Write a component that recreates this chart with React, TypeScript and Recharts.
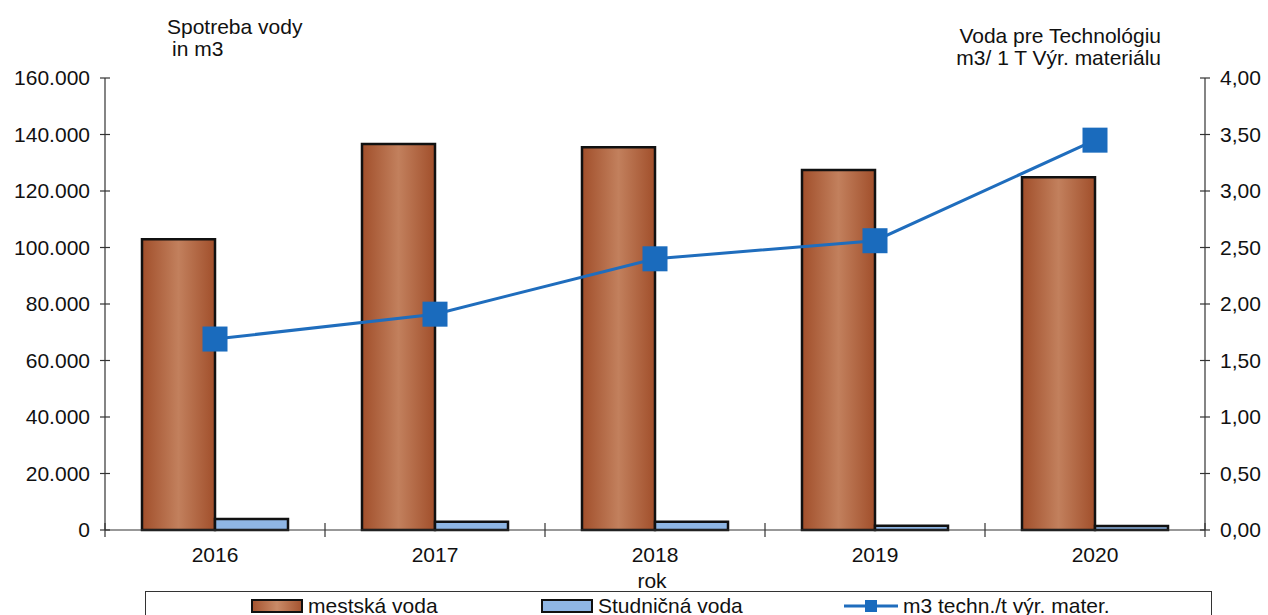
import React from 'react';
import { ComposedChart, Bar, Line, XAxis, YAxis, Legend, Label } from 'recharts';

const years = ['2016', '2017', '2018', '2019', '2020'];
const mestskaVoda = [102900, 136600, 135500, 127400, 124900];
const studnicnaVoda = [3900, 2900, 2900, 1500, 1400];
const m3Techn = [1.69, 1.91, 2.4, 2.56, 3.45];
const leftTicks = [0, 20000, 40000, 60000, 80000, 100000, 120000, 140000, 160000];
const rightTicks = [0, 0.5, 1, 1.5, 2, 2.5, 3, 3.5, 4];

const data = years.map((y, i) => ({
  year: y,
  mestska: mestskaVoda[i],
  studnicna: studnicnaVoda[i],
  techn: m3Techn[i],
}));

const FONT = '"Liberation Sans", Arial, sans-serif';
const AXIS = '#333';

const fmtLeft = (v: number) => (v === 0 ? '0' : (v / 1000).toFixed(3).replace(/\B(?=(\d{3})+(?!\d))/g, '.'));
const fmtRight = (v: number) => v.toFixed(2).replace('.', ',');

const LeftTick = (props: any) => {
  const { x, y, payload } = props;
  return (
    <g>
      <line x1={x + 10} x2={x + 20} y1={y} y2={y} stroke={AXIS} strokeWidth={1.2} />
      <text x={x} y={y} dy="0.35em" textAnchor="end" fontSize={21} fontFamily={FONT} fill="#111">
        {fmtLeft(payload.value)}
      </text>
    </g>
  );
};

const RightTick = (props: any) => {
  const { x, y, payload } = props;
  return (
    <g>
      <line x1={x - 20} x2={x - 10} y1={y} y2={y} stroke={AXIS} strokeWidth={1.2} />
      <text x={x} y={y} dy="0.35em" textAnchor="start" fontSize={21} fontFamily={FONT} fill="#111">
        {fmtRight(payload.value)}
      </text>
    </g>
  );
};

const XTick = (props: any) => {
  const { x, y, payload, index } = props;
  const half = 110;
  return (
    <g>
      {index === 0 && <line x1={x - half} x2={x - half} y1={y - 24} y2={y - 10} stroke={AXIS} strokeWidth={1.2} />}
      <line x1={x + half} x2={x + half} y1={y - 24} y2={y - 10} stroke={AXIS} strokeWidth={1.2} />
      <text x={x} y={y} dy="0.71em" textAnchor="middle" fontSize={21} fontFamily={FONT} fill="#111">
        {payload.value}
      </text>
    </g>
  );
};

const LegendContent = () => (
  <div
    style={{
      border: '1.5px solid #333',
      borderBottom: 'none',
      height: 30,
      boxSizing: 'border-box',
      fontFamily: FONT,
      fontSize: 21,
      color: '#111',
      position: 'relative',
    }}
  >
    <div style={{ position: 'absolute', left: 105, top: 2, display: 'flex', alignItems: 'center' }}>
      <svg width={52} height={16} style={{ marginRight: 5 }}>
        <rect x={1} y={2} width={50} height={12} fill="url(#brownGradLegend)" stroke="#111" strokeWidth={2} />
        <defs>
          <linearGradient id="brownGradLegend" x1="0" y1="0" x2="1" y2="0">
            <stop offset="0%" stopColor="#a4532f" />
            <stop offset="50%" stopColor="#c98b68" />
            <stop offset="100%" stopColor="#a4532f" />
          </linearGradient>
        </defs>
      </svg>
      <span>mestská voda</span>
    </div>
    <div style={{ position: 'absolute', left: 395, top: 2, display: 'flex', alignItems: 'center' }}>
      <svg width={52} height={16} style={{ marginRight: 5 }}>
        <rect x={1} y={2} width={50} height={12} fill="#8fb6e4" stroke="#111" strokeWidth={2} />
      </svg>
      <span>Studničná voda</span>
    </div>
    <div style={{ position: 'absolute', left: 698, top: 2, display: 'flex', alignItems: 'center' }}>
      <svg width={54} height={20} style={{ marginRight: 5 }}>
        <line x1={0} x2={54} y1={10} y2={10} stroke="#1f6dbd" strokeWidth={3} />
        <rect x={21} y={4} width={12} height={12} fill="#1a6bbd" />
      </svg>
      <span>m3 techn./t výr. mater.</span>
    </div>
  </div>
);

const SquareDot = (props: any) => {
  const { cx, cy } = props;
  if (cx == null || cy == null) return null;
  return <rect x={cx - 12.5} y={cy - 12.5} width={25} height={25} fill="#1a6bbd" />;
};

export default function App() {
  return (
    <div style={{ position: 'absolute', left: 0, top: 0, width: 1268, height: 615, background: '#fff' }}>
      <ComposedChart
        width={1268}
        height={615}
        data={data}
        margin={{ top: 78, right: 3, bottom: 5, left: 15 }}
        barCategoryGap={37}
        barGap={0}
      >
        <defs>
          <linearGradient id="brownGrad" x1="0" y1="0" x2="1" y2="0">
            <stop offset="0%" stopColor="#a14f2b" />
            <stop offset="50%" stopColor="#c2805d" />
            <stop offset="100%" stopColor="#a14f2b" />
          </linearGradient>
        </defs>
        <XAxis
          dataKey="year"
          height={50}
          tickLine={false}
          tickSize={0}
          tickMargin={17}
          axisLine={{ stroke: AXIS, strokeWidth: 1.2 }}
          tick={<XTick />}
          interval={0}
        >
          <Label
            content={(p: any) => {
              const vb = p.viewBox || {};
              return (
                <text x={vb.x + vb.width / 2 - 3} y={588} textAnchor="middle" fontSize={21} fontFamily={FONT} fill="#111">
                  rok
                </text>
              );
            }}
          />
        </XAxis>
        <YAxis
          yAxisId="left"
          width={90}
          domain={[0, 160000]}
          ticks={leftTicks}
          tickLine={false}
          tickSize={0}
          tickMargin={15}
          axisLine={{ stroke: AXIS, strokeWidth: 1.2 }}
          tick={<LeftTick />}
          interval={0}
        >
          <Label
            content={() => (
              <g>
                <text x={167} y={34} fontSize={21} fontFamily={FONT} fill="#111">Spotreba vody</text>
                <text x={172} y={56} fontSize={21} fontFamily={FONT} fill="#111">in m3</text>
              </g>
            )}
          />
        </YAxis>
        <YAxis
          yAxisId="right"
          orientation="right"
          width={60}
          domain={[0, 4]}
          ticks={rightTicks}
          tickLine={false}
          tickSize={0}
          tickMargin={15}
          axisLine={{ stroke: AXIS, strokeWidth: 1.2 }}
          tick={<RightTick />}
          interval={0}
        >
          <Label
            content={() => (
              <g>
                <text x={1161} y={43} textAnchor="end" fontSize={21} fontFamily={FONT} fill="#111">Voda pre Technológiu</text>
                <text x={1161} y={65} textAnchor="end" fontSize={21} fontFamily={FONT} fill="#111">m3/ 1 T Výr. materiálu</text>
              </g>
            )}
          />
        </YAxis>
        <Legend
          verticalAlign="bottom"
          height={30}
          content={<LegendContent />}
          wrapperStyle={{ left: 145, top: 591, bottom: 'auto', width: 1067, height: 30 }}
        />
        <Bar yAxisId="left" dataKey="mestska" name="mestská voda" fill="url(#brownGrad)" stroke="#111" strokeWidth={2.5} isAnimationActive={false} />
        <Bar yAxisId="left" dataKey="studnicna" name="Studničná voda" fill="#8fb6e4" stroke="#111" strokeWidth={2.5} isAnimationActive={false} />
        <Line
          yAxisId="right"
          dataKey="techn"
          name="m3 techn./t výr. mater."
          stroke="#1f6dbd"
          strokeWidth={3}
          dot={<SquareDot />}
          activeDot={false}
          isAnimationActive={false}
        />
      </ComposedChart>
    </div>
  );
}
